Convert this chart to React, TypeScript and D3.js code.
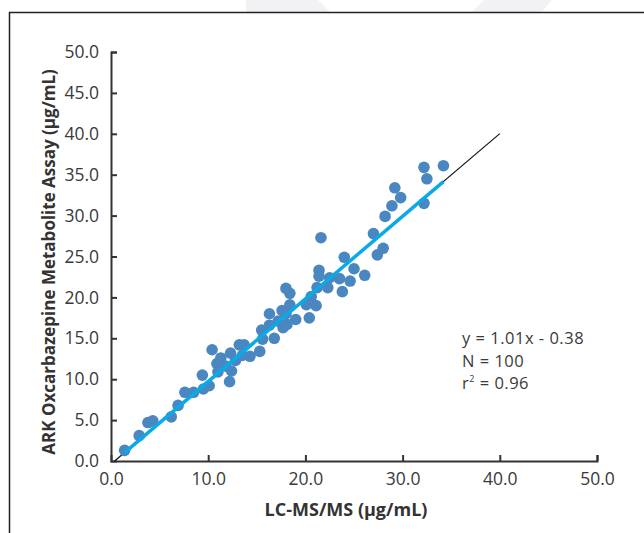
import React from 'react';
import * as d3 from 'd3';

// LC-MS/MS (x) vs ARK assay (y), µg/mL
const lcms = [
  1.4, 2.9, 3.8, 4.3, 6.2, 6.9, 7.6, 8.5, 9.5, 10.1,
  9.4, 10.4, 10.9, 11.3, 11.0, 12.2, 12.4, 11.8, 12.3, 12.8,
  13.2, 13.7, 13.5, 14.3, 15.3, 15.5, 15.6, 16.3, 16.3, 16.8,
  17.2, 17.6, 17.7, 18.1, 18.0, 18.4, 18.4, 18.0, 19.0, 20.1,
  20.4, 20.6, 21.1, 21.2, 21.4, 21.4, 21.6, 22.3, 22.5, 23.5,
  23.8, 24.0, 24.6, 25.0, 26.1, 27.0, 27.4, 28.0, 28.2, 28.9,
  29.2, 29.8, 32.2, 32.2, 32.5, 34.2,
];
const ark = [
  1.3, 3.1, 4.7, 4.9, 5.4, 6.8, 8.4, 8.4, 8.8, 9.2,
  10.5, 13.6, 11.9, 12.6, 10.9, 9.7, 11.0, 11.6, 13.2, 12.3,
  14.2, 14.2, 12.9, 12.8, 13.4, 16.0, 14.9, 18.0, 16.6, 15.0,
  17.1, 18.4, 16.3, 16.7, 21.1, 20.5, 19.1, 18.0, 17.3, 19.1,
  17.5, 20.1, 19.0, 21.2, 23.3, 22.6, 27.3, 21.2, 22.4, 22.3,
  20.7, 24.9, 22.0, 23.5, 22.7, 27.8, 25.2, 26.0, 29.9, 31.2,
  33.4, 32.2, 35.9, 31.5, 34.5, 36.1,
];
const xTicks = [0, 10, 20, 30, 40, 50];
const yTicks = [0, 5, 10, 15, 20, 25, 30, 35, 40, 45, 50];
const slope = 1.01;
const intercept = -0.38;
const statLines = ['y = 1.01x - 0.38', 'N = 100', 'r2 = 0.96'];

const W = 644;
const H = 533;

export default function App() {
  const ref = React.useRef<SVGSVGElement>(null);

  React.useEffect(() => {
    if (!ref.current) return;
    const svg = d3.select(ref.current);
    svg.selectAll('*').remove();

    const x = d3.scaleLinear().domain([0, 50]).range([111, 597]);
    const y = d3.scaleLinear().domain([0, 50]).range([461, 52]);
    const font = '"Open Sans", "Noto Sans", sans-serif';
    const ink = '#333';

    // faint watermark at top
    svg.append('polygon').attr('points', '246,0 318,0 330,12 246,12').attr('fill', '#f2f2f4');
    svg.append('polygon').attr('points', '484,0 552,0 542,12 472,12').attr('fill', '#f2f2f4');

    // frame
    svg.append('path').attr('d', `M9.5,${H} V12.5 H${W}`).attr('fill', 'none').attr('stroke', '#222').attr('stroke-width', 1.5);

    // axes
    const gx = svg.append('g').attr('transform', `translate(0,${y(0)})`)
      .call(d3.axisBottom(x).tickValues(xTicks).tickSize(-6).tickPadding(12).tickFormat(d3.format('.1f')));
    const gy = svg.append('g').attr('transform', `translate(${x(0)},0)`)
      .call(d3.axisLeft(y).tickValues(yTicks).tickSize(-6).tickPadding(12).tickFormat(d3.format('.1f')));
    [gx, gy].forEach((g) => {
      g.select('.domain').attr('stroke', ink).attr('stroke-width', 2);
      g.selectAll('.tick line').attr('stroke', ink).attr('stroke-width', 2);
      g.selectAll('.tick text').attr('fill', '#3a3a3a').style('font-family', font).style('font-size', '17.5px').style('font-weight', 400);
    });
    gx.selectAll('.tick').filter((d: any) => d === 0).select('line').remove();
    gy.selectAll('.tick').filter((d: any) => d === 0).select('line').remove();

    // regression line (black) and fitted range (blue)
    const line = d3.line<number>().x((v) => x(v)).y((v) => y(slope * v + intercept));
    svg.append('path').datum([-intercept / slope, 40]).attr('d', line)
      .attr('stroke', '#111').attr('stroke-width', 1.2).attr('fill', 'none');

    svg.append('g').selectAll('circle').data(lcms).enter().append('circle')
      .attr('cx', (d) => x(d)).attr('cy', (d, i) => y(ark[i])).attr('r', 5.8).attr('fill', '#4a87c0');

    svg.append('path').datum([d3.min(lcms)!, d3.max(lcms)!]).attr('d', line)
      .attr('stroke', '#0aa9e8').attr('stroke-width', 3.5).attr('fill', 'none');

    // stats text
    const st = svg.append('g').style('font-family', font).style('font-size', '16.5px')
      .style('letter-spacing', '0.5px').style('font-weight', 400).attr('fill', '#3a3a3a');
    statLines.forEach((s, i) => {
      const t = st.append('text').attr('x', 462).attr('y', 344 + i * 22.5);
      if (s.startsWith('r2')) {
        t.append('tspan').text('r');
        t.append('tspan').attr('dy', -7).style('font-size', '9px').text('2');
        t.append('tspan').attr('dy', 7).text(s.slice(2));
      } else {
        t.text(s);
      }
    });

    // axis titles
    svg.append('text').attr('x', 346).attr('y', 516).attr('text-anchor', 'middle')
      .style('font-family', font).style('font-size', '18px').style('font-weight', 700).attr('fill', ink)
      .text('LC-MS/MS (µg/mL)');
    svg.append('text').attr('transform', `translate(55,${(62 + 462) / 2}) rotate(-90)`).attr('text-anchor', 'middle')
      .style('font-family', font).style('font-size', '17px').style('font-weight', 700).attr('fill', ink)
      .text('ARK Oxcarbazepine Metabolite Assay (µg/mL)');
  }, []);

  return (
    <svg ref={ref} width={W} height={H} style={{ position: 'absolute', left: 0, top: 0, background: '#fff' }} />
  );
}
